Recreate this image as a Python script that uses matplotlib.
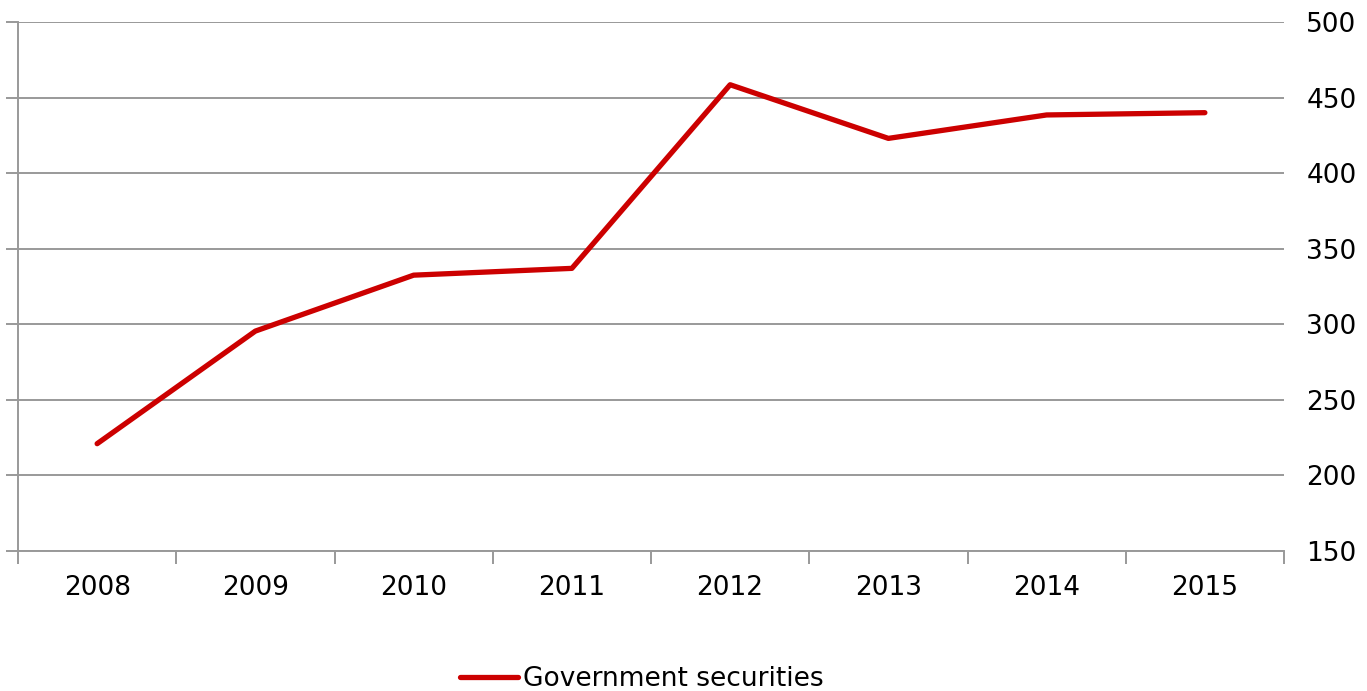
import matplotlib.pyplot as plt
from matplotlib.lines import Line2D

# data
years = ['2008', '2009', '2010', '2011', '2012', '2013', '2014', '2015']
gov_securities = [221, 295.5, 332.5, 337, 458.5, 423, 438.5, 440]

fig = plt.figure(figsize=(13.67, 6.91), dpi=100)
ax = fig.add_axes([18 / 1367, 1 - 551 / 691, (1284 - 18) / 1367, (551 - 22) / 691])

x = list(range(len(years)))
ax.plot(x, gov_securities, color='#cc0000', lw=3.8, solid_capstyle='round',
        zorder=3)

ax.set_xlim(-0.5, len(years) - 0.5)
ax.set_ylim(150, 500)
ax.set_yticks(range(150, 501, 50))
ax.grid(axis='y', color='#999999', lw=1.4)

ax.set_xticks(x)
ax.set_xticklabels(years, fontsize=19)
ax.set_xticks([i - 0.5 for i in range(len(years) + 1)], minor=True)
ax.tick_params(axis='x', which='major', length=0, pad=17)
ax.tick_params(axis='x', which='minor', length=9, width=1.4, color='#999999',
               direction='out')
ax.tick_params(axis='y', left=True, right=False, labelleft=False,
               labelright=True, length=9, width=1.4, color='#999999',
               labelsize=19, pad=7)

for s in ['top', 'right']:
    ax.spines[s].set_visible(False)
for s in ['left', 'bottom']:
    ax.spines[s].set_color('#999999')
    ax.spines[s].set_linewidth(1.4)

handle = Line2D([], [], color='#cc0000', lw=3.8, solid_capstyle='round')
fig.legend([handle], ['Government securities'], loc='center',
           bbox_to_anchor=(642 / 1367, 1 - 679 / 691), frameon=False,
           fontsize=19, handlelength=2.2, handletextpad=0.2)

fig.savefig('out.png', dpi=100)
